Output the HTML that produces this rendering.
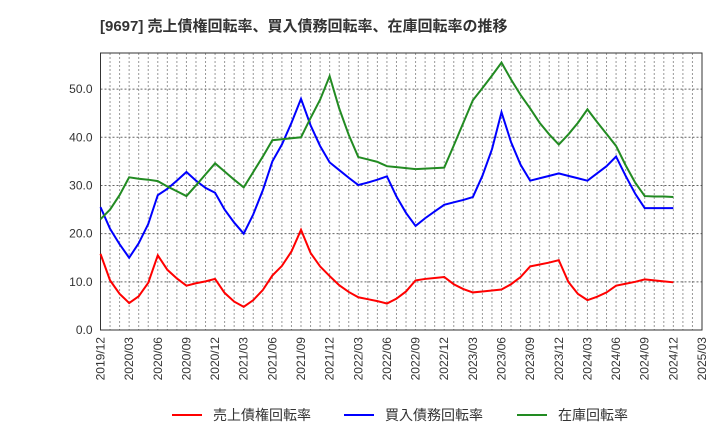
<!DOCTYPE html>
<html><head><meta charset="utf-8"><style>
body{margin:0;background:#fff;font-family:"Liberation Sans","Noto Sans CJK JP",sans-serif;}
</style></head><body>
<svg id="chart" width="720" height="440" xmlns="http://www.w3.org/2000/svg" font-family="'Liberation Sans','Noto Sans CJK JP',sans-serif">
<text x="100" y="31" font-size="15" font-weight="bold" fill="#333">[9697]  売上債権回転率、買入債務回転率、在庫回転率の推移</text>
<g id="grid"></g><g id="axes"></g><g id="series"></g>
<g>
<line x1="172" y1="415" x2="202" y2="415" stroke="#ff0000" stroke-width="2"/><text x="213" y="420" font-size="14" fill="#333">売上債権回転率</text>
<line x1="344" y1="415" x2="374" y2="415" stroke="#0000ff" stroke-width="2"/><text x="385" y="420" font-size="14" fill="#333">買入債務回転率</text>
<line x1="517" y1="415" x2="547" y2="415" stroke="#228b22" stroke-width="2"/><text x="558" y="420" font-size="14" fill="#333">在庫回転率</text>
</g>
</svg>
<script>
const tickLabels=["2019/12","2020/03","2020/06","2020/09","2020/12","2021/03","2021/06","2021/09","2021/12","2022/03","2022/06","2022/09","2022/12","2023/03","2023/06","2023/09","2023/12","2024/03","2024/06","2024/09","2024/12","2025/03"];
const yTicks=[0,10,20,30,40,50];
const receivables=[15.8,10.3,7.5,5.6,7.0,9.8,15.5,12.5,10.7,9.2,9.7,10.1,10.6,7.7,5.9,4.8,6.2,8.3,11.3,13.3,16.3,20.8,16.0,13.2,11.2,9.3,7.9,6.8,6.4,6.0,5.5,6.5,8.0,10.3,10.6,10.8,11.0,9.5,8.5,7.8,8.0,8.2,8.4,9.5,11.0,13.2,13.6,14.0,14.5,10.0,7.5,6.2,6.9,7.8,9.2,9.6,10.0,10.5,10.3,10.1,9.9];
const payables=[25.5,21,17.8,15,18,22,28,29.3,31,32.8,31,29.5,28.5,25,22.3,20,24,29,35,38.5,43,48,42.5,38.2,34.8,33.2,31.6,30.1,30.6,31.2,31.9,27.7,24.3,21.6,23.2,24.6,26,26.5,27,27.6,32,37.5,45.2,39,34.3,31,31.5,32,32.5,32,31.5,31,32.5,34,36,32,28.3,25.3,25.3,25.3,25.3];
const inventory=[23,25,28,31.7,31.4,31.2,30.9,29.8,28.8,27.8,30,32.3,34.6,32.9,31.2,29.6,32.8,36,39.4,39.6,39.8,40,44,47.8,52.7,46,40.5,35.9,35.4,34.9,34,33.8,33.6,33.4,33.5,33.6,33.7,38.3,43,47.7,50.2,52.8,55.5,52,48.8,46,43,40.6,38.5,40.6,43,45.8,43.2,40.7,38.2,34.2,30.6,27.8,27.7,27.7,27.6];
const L=100.5,R=702,T=53,B=330,NM=63,YMAX=57.5;
const x=i=>L+(R-L)*i/NM;
const y=v=>B-(B-T)*v/YMAX;
const NS="http://www.w3.org/2000/svg";
function mk(tag,attrs,parent){const e=document.createElementNS(NS,tag);for(const k in attrs)e.setAttribute(k,attrs[k]);parent.appendChild(e);return e;}
const grid=document.getElementById('grid'),axes=document.getElementById('axes'),series=document.getElementById('series');
for(let i=1;i<NM;i++){const l=mk('line',{x1:x(i),x2:x(i),y1:T,y2:B,stroke:'#999','stroke-dasharray':'2,2','stroke-width':1},grid);

}
yTicks.forEach(v=>{if(v>0){const l=mk('line',{x1:L,x2:R,y1:y(v),y2:y(v),stroke:'#666','stroke-dasharray':'2,2','stroke-width':1},grid);

}
const t=mk('text',{x:L-8,y:y(v)+4,'text-anchor':'end','font-size':12,fill:'#333'},axes);t.textContent=v.toFixed(1);

});
const fr=mk('rect',{x:L,y:T,width:R-L,height:B-T,fill:'none',stroke:'#333','stroke-width':1},axes);


tickLabels.forEach((s,i)=>{const xx=x(i*3);const t=mk('text',{x:0,y:0,'text-anchor':'end','font-size':12,fill:'#333',transform:`translate(${xx+4},${B+7}) rotate(-90)`},axes);t.textContent=s;

});
[[receivables,'#ff0000','receivables-turnover-line'],[payables,'#0000ff','payables-turnover-line'],[inventory,'#228b22','inventory-turnover-line']].forEach(([d,c,n])=>{
const p=mk('polyline',{points:d.map((v,i)=>x(i)+','+y(v)).join(' '),fill:'none',stroke:c,'stroke-width':2},series);

});
</script>
</body></html>
